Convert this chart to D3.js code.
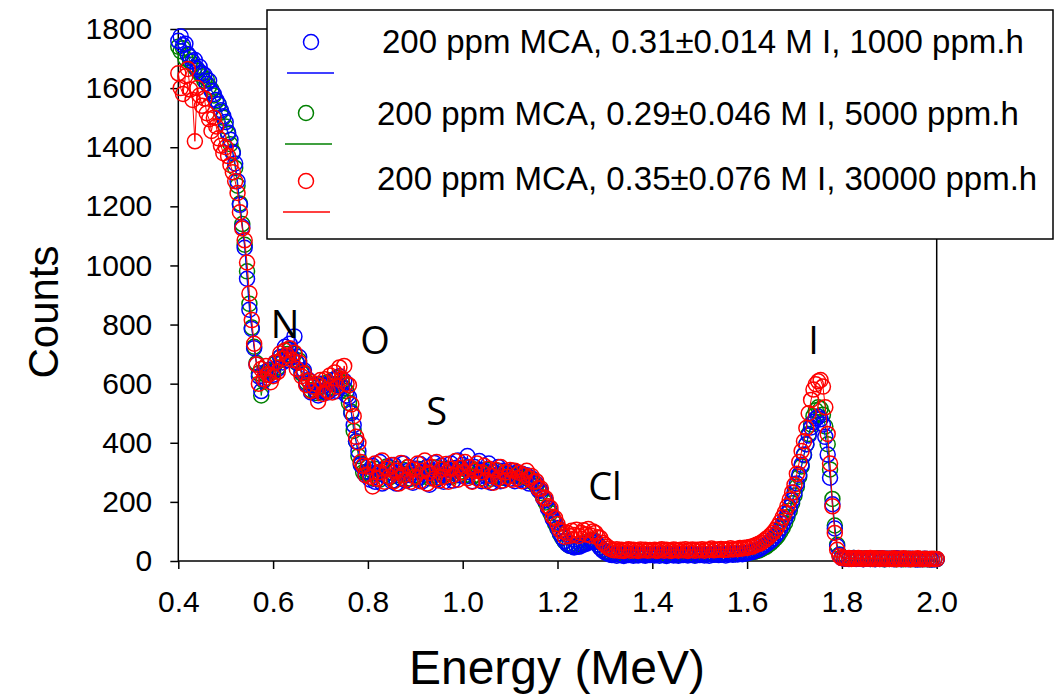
<!DOCTYPE html>
<html lang="en-us">
<meta charset="utf-8">
<head>
<title>Energy spectra</title>
<script src="https://d3js.org/d3.v7.min.js"></script>
<style type="text/css">
  body { margin: 0; background: #fff; }
  svg { display: block; font-family: "Liberation Sans", Arial, sans-serif; }
  .tick text { font-size: 30px; fill: #000; }
  .tick line { stroke: #000; stroke-width: 1.5; }
  .peak { font-family: "Open Sans", sans-serif; font-size: 38px; }
</style>
</head>
<body>
<script>
var width = 1056,
    height = 698;

// energy channels: 0.40 MeV upward in 0.005 MeV steps
var energyStart = 0.4,
    energyStep = 0.005;

// counts, one row per 0.1 MeV
var blue1000 = [
  1760,1775,1745,1750,1715,1705,1690,1695,1665,1672,1650,1645,1615,1625,1590,1580,1560,1545,1525,1505,
  1485,1450,1425,1380,1345,1285,1205,1130,1060,955,850,785,720,665,625,575,615,640,630,648,
  630,672,650,690,672,725,680,735,690,760,672,690,640,645,600,612,570,595,575,560,
  600,575,595,570,600,582,615,575,625,590,610,560,555,500,460,405,372,325,318,290,
  302,275,322,268,296,335,262,310,285,318,270,325,262,298,280,330,272,305,290,265,
  312,280,328,270,300,318,258,305,332,275,295,322,268,308,286,330,272,315,340,290,
  325,285,355,300,270,318,282,338,270,305,285,330,265,300,280,318,270,305,282,300,
  278,305,270,300,275,295,270,290,262,280,268,262,240,238,212,205,178,170,142,132,
  112,95,80,68,58,52,50,46,50,48,52,55,58,62,66,68,64,55,44,36,
  30,26,22,20,24,18,22,20,17,22,20,24,18,21,19,23,20,18,22,20,
  21,19,24,18,22,20,17,23,21,19,25,18,22,20,24,19,21,23,18,22,
  20,24,19,22,18,23,21,25,20,22,24,19,23,26,21,24,22,26,23,25,
  26,29,30,33,36,40,45,50,56,62,68,76,86,96,110,125,142,160,182,205,
  232,262,292,326,360,395,425,452,470,482,488,480,462,420,360,282,192,110,50,20,
  10,8,9,7,8,10,7,9,8,6,8,9,7,8,6,8,7,9,6,8,
  7,8,6,9,7,6,8,7,6,8,7,6,5,7,6,8,6,7,5,6,
  6
];

var green5000 = [
  1740,1725,1735,1700,1712,1690,1680,1670,1660,1650,1640,1625,1630,1605,1595,1575,1555,1545,1520,1500,
  1470,1445,1410,1385,1330,1270,1210,1140,1070,980,870,790,725,670,635,560,610,630,645,640,
  640,668,655,690,682,712,700,715,690,700,670,678,635,638,605,610,578,590,568,590,
  570,598,575,605,585,612,598,620,595,605,585,575,535,505,440,405,355,330,300,300,
  295,310,280,312,298,275,305,290,320,282,300,272,312,290,280,308,295,318,278,300,
  290,312,282,305,292,318,280,300,290,316,282,305,290,312,300,284,305,315,290,302,
  312,290,318,300,285,310,292,305,280,300,310,290,278,302,288,305,282,298,280,295,
  290,294,288,290,285,288,284,280,276,270,265,255,245,230,215,198,180,162,145,126,
  110,92,78,66,58,52,50,48,50,52,55,58,62,66,70,72,66,56,46,38,
  32,28,25,24,22,24,22,23,21,22,24,22,23,21,22,24,22,21,23,22,
  22,23,21,24,22,23,21,22,24,23,22,21,23,22,24,22,23,22,21,23,
  22,24,23,22,24,23,22,25,24,23,25,24,23,26,25,24,26,25,26,27,
  26,28,29,31,33,36,40,44,48,54,60,68,76,86,98,112,128,148,170,195,
  222,252,285,320,358,395,430,462,490,510,520,515,495,455,395,310,210,120,55,22,
  12,10,9,8,9,10,8,9,8,7,9,8,7,8,7,9,8,7,6,8,
  7,8,7,6,8,7,6,7,8,6,7,6,7,6,7,6,7,5,6,7,
  6
];

var red30000 = [
  1650,1600,1580,1640,1665,1595,1560,1420,1600,1575,1540,1565,1515,1495,1455,1500,1470,1430,1405,1380,
  1400,1370,1340,1315,1285,1245,1180,1125,1085,1010,905,815,735,665,600,650,615,660,630,605,
  625,672,640,702,685,712,695,720,680,705,650,672,625,635,595,610,575,590,600,540,
  612,565,615,575,628,570,638,590,655,615,660,600,595,530,490,420,400,335,322,290,
  320,285,252,330,278,300,340,268,312,285,325,270,305,262,332,290,275,318,268,310,
  285,330,270,305,340,262,298,318,278,335,272,310,285,328,268,312,290,338,275,315,
  300,335,280,318,268,305,330,275,300,322,270,312,288,265,308,280,318,272,300,285,
  308,275,305,280,298,270,290,305,280,288,268,270,245,245,215,212,185,180,150,145,
  125,105,100,82,96,85,102,88,106,85,95,104,90,108,86,100,95,80,78,62,
  55,48,42,38,36,40,35,38,34,37,40,35,38,36,34,39,36,38,35,37,
  36,38,34,37,40,35,38,36,34,39,37,35,38,36,40,34,37,39,35,38,
  36,40,35,38,37,42,36,39,38,41,37,40,38,43,39,41,40,44,42,45,
  44,47,48,52,55,58,62,68,74,80,88,96,106,118,132,148,165,185,208,232,
  258,295,335,372,405,450,500,545,580,598,608,612,590,520,430,330,185,95,38,16,
  10,9,8,10,7,9,8,10,8,7,9,8,10,7,9,8,7,9,8,7,
  8,7,9,6,8,7,9,7,8,6,8,7,9,7,6,8,7,6,8,7,
  7
];

var seriesNames = [
  "200 ppm MCA, 0.31\u00b10.014 M I, 1000 ppm.h",
  "200 ppm MCA, 0.29\u00b10.046 M I, 5000 ppm.h",
  "200 ppm MCA, 0.35\u00b10.076 M I, 30000 ppm.h"
];
var seriesColors = ["#0000ff", "#008000", "#ff0000"];

var peakLabels = ["N", "O", "S", "Cl", "I"];
var peakEnergy = [0.625, 0.815, 0.945, 1.30, 1.74];
var peakCounts = [755, 700, 460, 205, 700];

var xTicks = [0.4, 0.6, 0.8, 1.0, 1.2, 1.4, 1.6, 1.8, 2.0];
var yTicks = [0, 200, 400, 600, 800, 1000, 1200, 1400, 1600, 1800];

var svg = d3.select("body")
  .append("svg")
  .attr("width", width)
  .attr("height", height);

svg.append("rect").attr("width", width).attr("height", height).style("fill", "#fff");

var x = d3.scaleLinear().domain([0.4, 2.0]).range([178.3, 936.7]);
var y = d3.scaleLinear().domain([0, 1800]).range([561, 29]);

// frame round the plot
svg.append("rect")
  .attr("x", x(0.4)).attr("y", y(1800))
  .attr("width", x(2.0) - x(0.4)).attr("height", y(0) - y(1800))
  .style("fill", "none").style("stroke", "#000").style("stroke-width", 1.5);

var gx = svg.append("g")
  .attr("transform", "translate(0," + y(0) + ")")
  .call(d3.axisBottom(x).tickValues(xTicks).tickFormat(d3.format(".1f"))
        .tickSize(8).tickSizeOuter(0).tickPadding(22));
gx.select(".domain").remove();
gx.selectAll(".tick text").attr("font-family", null).attr("font-size", null);

var gy = svg.append("g")
  .attr("transform", "translate(" + x(0.4) + ",0)")
  .call(d3.axisLeft(y).tickValues(yTicks).tickFormat(d3.format("d"))
        .tickSize(8).tickSizeOuter(0).tickPadding(18));
gy.select(".domain").remove();
gy.selectAll(".tick text").attr("font-family", null).attr("font-size", null);

// series, drawn green first, then blue, red on top
var series = [
  {name: seriesNames[0], color: seriesColors[0], counts: blue1000},
  {name: seriesNames[1], color: seriesColors[1], counts: green5000},
  {name: seriesNames[2], color: seriesColors[2], counts: red30000}
];
series.forEach(function(s) {
  s.points = s.counts.map(function(c, i) {
    return {e: energyStart + i * energyStep, c: c};
  });
});

var drawOrder = [series[1], series[0], series[2]];

var line = d3.line()
  .x(function(d) { return x(d.e); })
  .y(function(d) { return y(d.c); });

var plot = svg.append("g");
drawOrder.forEach(function(s) {
  var g = plot.append("g");
  g.append("path")
    .datum(s.points)
    .attr("d", line)
    .style("fill", "none")
    .style("stroke", s.color)
    .style("stroke-width", 1);
  g.selectAll("circle")
    .data(s.points)
    .enter().append("circle")
    .attr("cx", function(d) { return x(d.e); })
    .attr("cy", function(d) { return y(d.c); })
    .attr("r", 7.5)
    .style("fill", "none")
    .style("stroke", s.color)
    .style("stroke-width", 1.5);
});

// element labels
svg.selectAll(".peak")
  .data(peakLabels)
  .enter().append("text")
  .attr("class", "peak")
  .attr("x", function(d, i) { return x(peakEnergy[i]); })
  .attr("y", function(d, i) { return y(peakCounts[i]); })
  .attr("text-anchor", "middle")
  .text(function(d) { return d; });

// legend
var legend = svg.append("g").attr("transform", "translate(267,10)");
legend.append("rect")
  .attr("width", 786).attr("height", 229)
  .style("fill", "#fff").style("stroke", "#000").style("stroke-width", 1.5);

var legendRows = legend.selectAll(".row")
  .data(series)
  .enter().append("g")
  .attr("class", "row")
  .attr("transform", function(d, i) { return "translate(0," + (i * 68) + ")"; });

legendRows.append("circle")
  .attr("cx", function(d, i) { return i == 0 ? 44 : 39; })
  .attr("cy", function(d, i) { return i == 0 ? 32 : 35; })
  .attr("r", 7.5)
  .style("fill", "none")
  .style("stroke", function(d) { return d.color; })
  .style("stroke-width", 1.5);

legendRows.append("line")
  .attr("x1", function(d, i) { return 20 - i * 2; })
  .attr("x2", function(d, i) { return 67 - i * 2; })
  .attr("y1", function(d, i) { return i == 0 ? 63 : 66; })
  .attr("y2", function(d, i) { return i == 0 ? 63 : 66; })
  .style("stroke", function(d) { return d.color; })
  .style("stroke-width", 1.3);

legendRows.append("text")
  .attr("x", function(d, i) { return i == 0 ? 115 : 110; })
  .attr("y", function(d, i) { return i == 0 ? 43 : 47 - (i - 1) * 3; })
  .style("font-size", "33px")
  .text(function(d) { return d.name; });

// axis titles
svg.append("text")
  .attr("transform", "translate(58,312) rotate(-90)")
  .attr("text-anchor", "middle")
  .style("font-size", "42px")
  .text("Counts");

svg.append("text")
  .attr("x", 557)
  .attr("y", 684)
  .attr("text-anchor", "middle")
  .style("font-size", "48px")
  .text("Energy (MeV)");
</script>
</body>
</html>
